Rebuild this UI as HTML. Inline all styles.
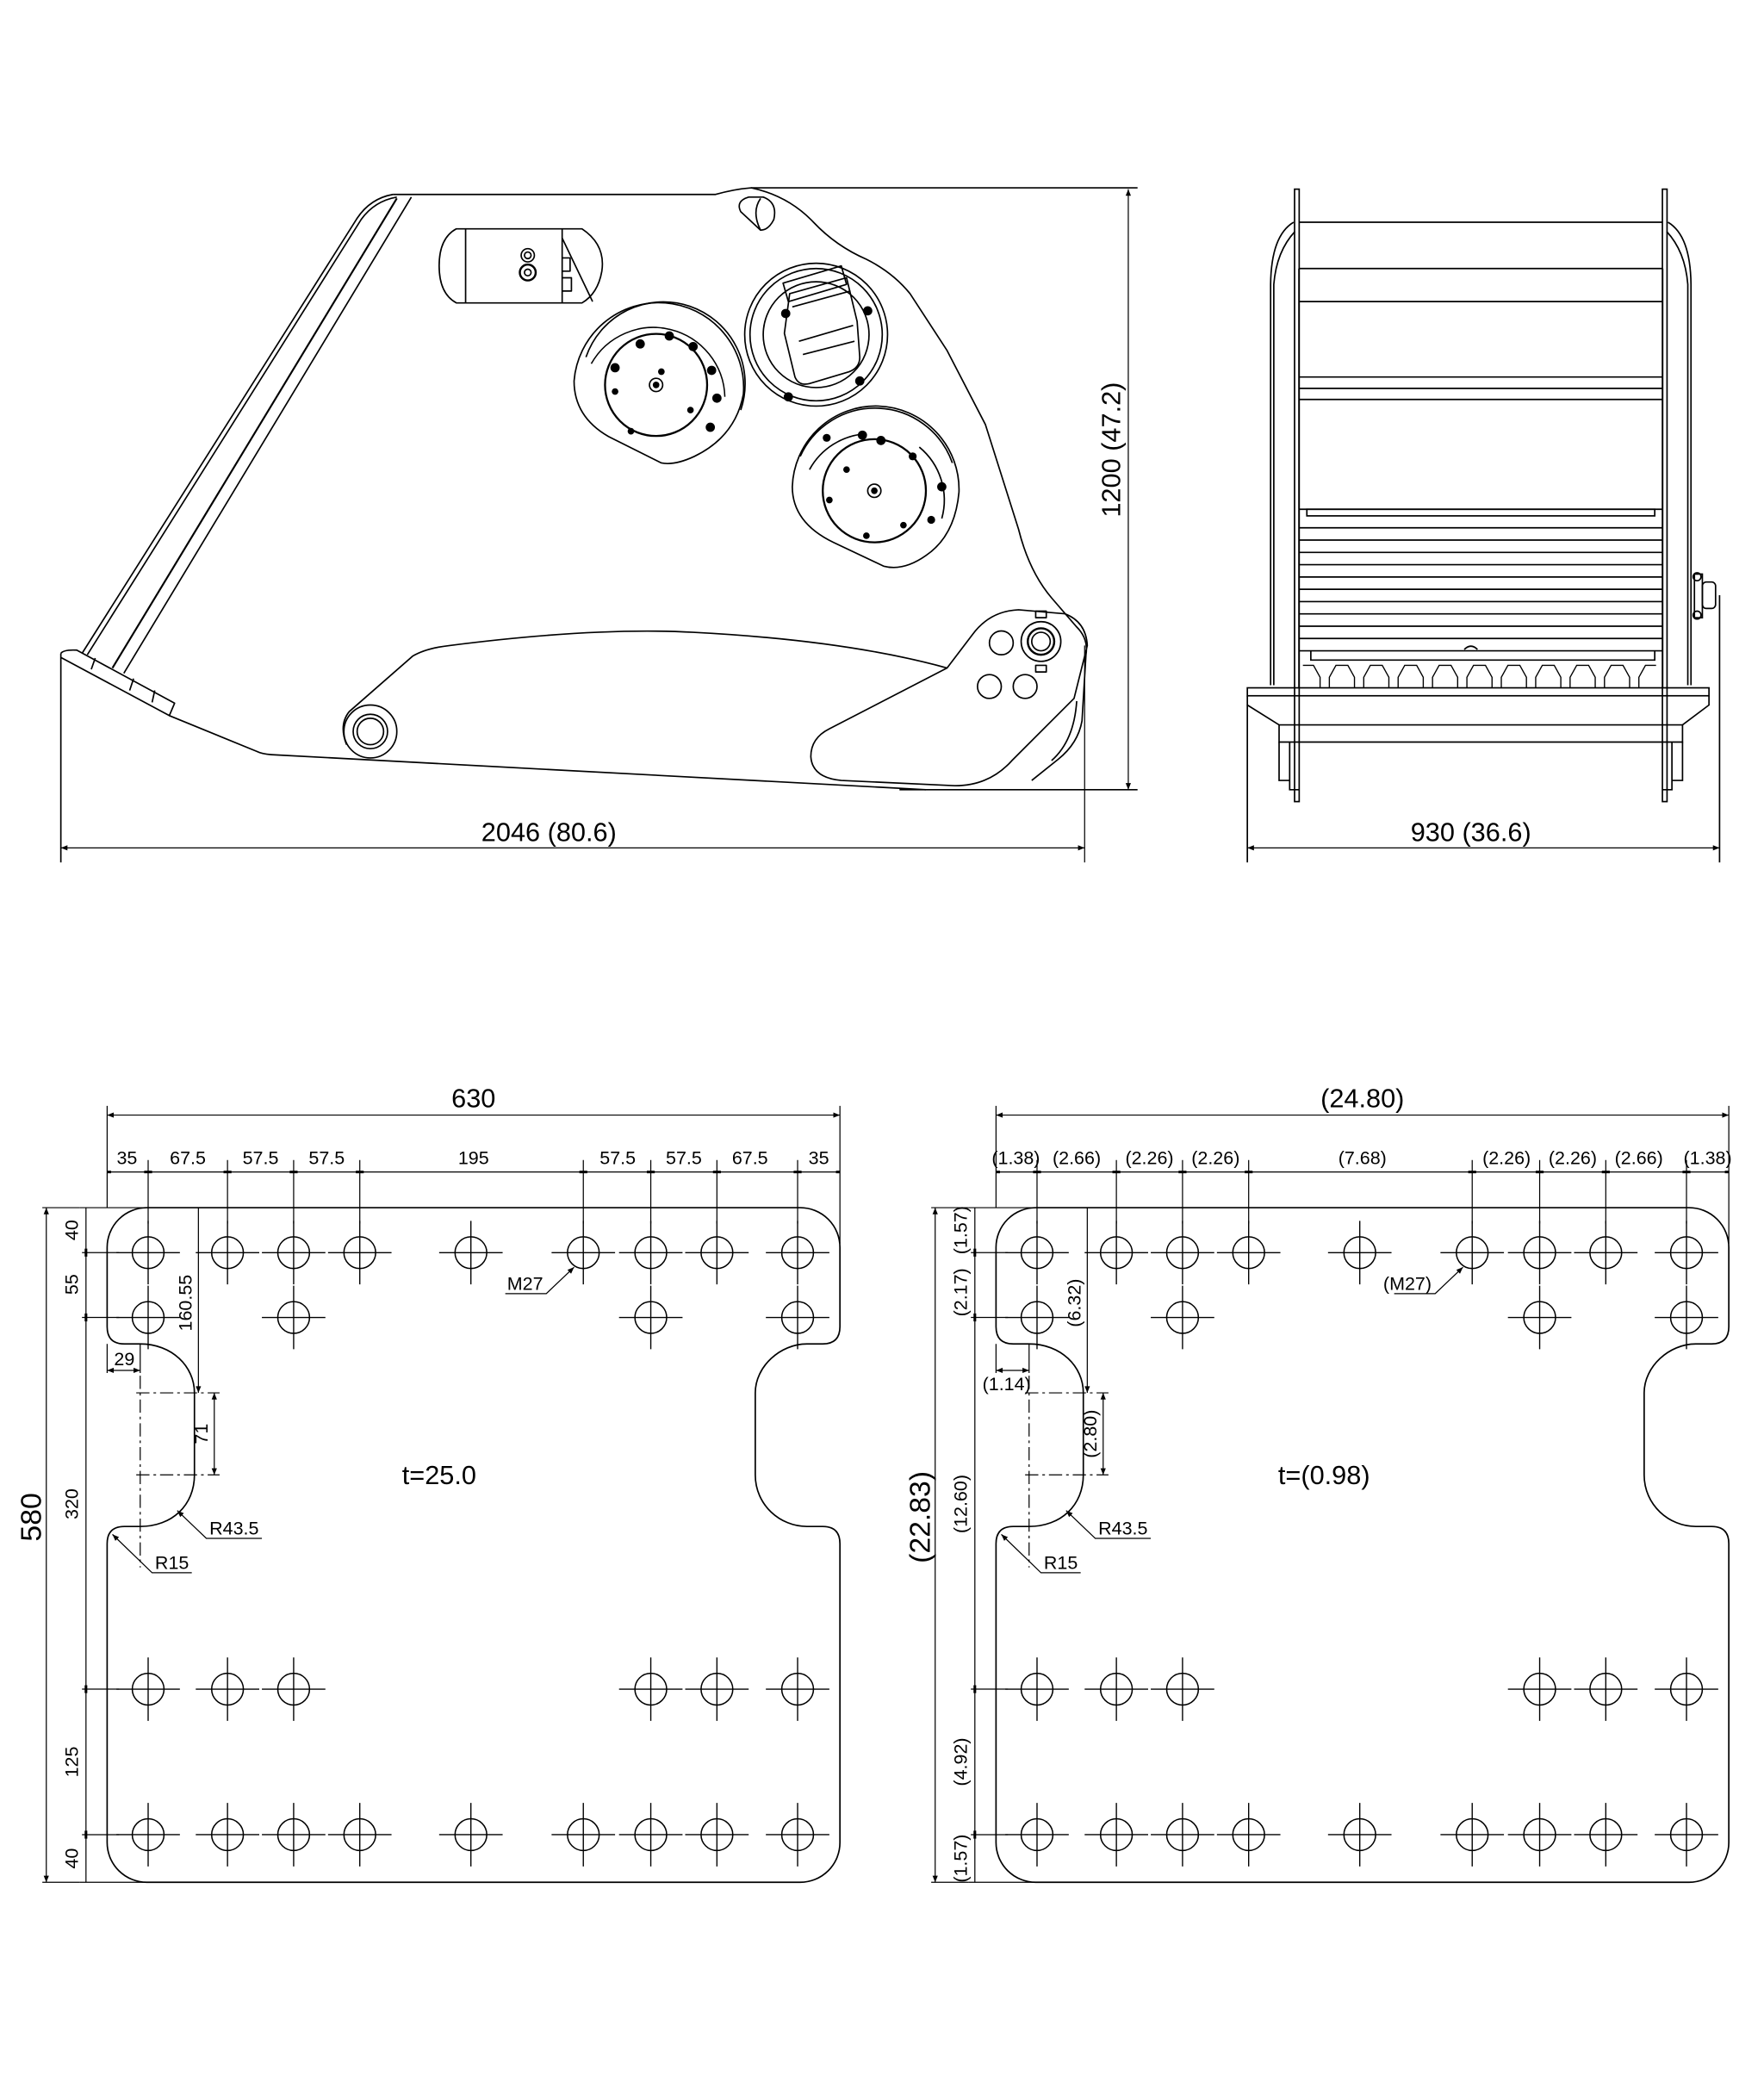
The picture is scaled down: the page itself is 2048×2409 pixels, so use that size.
<!DOCTYPE html>
<html><head><meta charset="utf-8"><style>
html,body{margin:0;padding:0;background:#fff}
svg{display:block}
text{font-family:"Liberation Sans",sans-serif;fill:#000}
</style></head><body>
<svg width="2048" height="2409" viewBox="0 0 1333.6 1568.7" preserveAspectRatio="none" xmlns="http://www.w3.org/2000/svg">
<defs>
<marker id="a" viewBox="0 0 10 10" refX="10" refY="5" markerWidth="7" markerHeight="5" markerUnits="userSpaceOnUse" orient="auto-start-reverse"><path d="M0 1L10 5L0 9z" fill="#000"/></marker>
<g id="h"><circle cx="0" cy="0" r="12" fill="none" stroke="#000" stroke-width="1"/><path d="M-24 0H24M0 -24V24" stroke="#000" stroke-width="0.9"/></g>
<g id="plate" fill="none" stroke="#000" stroke-width="1.1">
<path d="M111 913 L605 913 A30 30 0 0 1 635 943 L635 1003 Q635 1016 622 1016 L610 1016 C590 1016 571 1033 571 1053 L571 1115 C571 1138 590 1154 610 1154 L622 1154 Q635 1154 635 1167 L635 1393 A30 30 0 0 1 605 1423 L111 1423 A30 30 0 0 1 81 1393 L81 1167 Q81 1154 94 1154 L106 1154 C130 1154 147 1138 147 1115 L147 1053 C147 1033 130 1016 106 1016 L94 1016 Q81 1016 81 1003 L81 943 A30 30 0 0 1 111 913 Z"/>
<use href="#h" x="112" y="947"/><use href="#h" x="172" y="947"/><use href="#h" x="222" y="947"/><use href="#h" x="272" y="947"/><use href="#h" x="356" y="947"/><use href="#h" x="441" y="947"/><use href="#h" x="492" y="947"/><use href="#h" x="542" y="947"/><use href="#h" x="603" y="947"/>
<use href="#h" x="112" y="996"/><use href="#h" x="222" y="996"/><use href="#h" x="492" y="996"/><use href="#h" x="603" y="996"/>
<use href="#h" x="112" y="1277"/><use href="#h" x="172" y="1277"/><use href="#h" x="222" y="1277"/><use href="#h" x="492" y="1277"/><use href="#h" x="542" y="1277"/><use href="#h" x="603" y="1277"/>
<use href="#h" x="112" y="1387"/><use href="#h" x="172" y="1387"/><use href="#h" x="222" y="1387"/><use href="#h" x="272" y="1387"/><use href="#h" x="356" y="1387"/><use href="#h" x="441" y="1387"/><use href="#h" x="492" y="1387"/><use href="#h" x="542" y="1387"/><use href="#h" x="603" y="1387"/>
</g>
<g id="pdim" fill="none" stroke="#000" stroke-width="0.8">
<path d="M81 836V913M635 836V940"/>
<path d="M81 843H635" marker-start="url(#a)" marker-end="url(#a)"/>
<path d="M81 886H635"/>
<path d="M112 877V925M172 877V925M222 877V925M272 877V925M441 877V925M492 877V925M542 877V925M603 877V925"/>
<path d="M84 886h-3M109 886h6M169 886h6M219 886h6M269 886h6M438 886h6M489 886h6M539 886h6M600 886h6M632 886h3" stroke-width="2"/>
<path d="M65 913V1423"/>
<path d="M60 913H111M60 1423H111M62 947H90M62 996H90M62 1277H90M62 1387H90"/>
<path d="M65 944v6M65 993v6M65 1274v6M65 1384v6" stroke-width="2"/>
<path d="M32 913H60M32 1423H60"/>
<path d="M35 913V1423" marker-start="url(#a)" marker-end="url(#a)"/>
<path d="M150 913V1053" marker-end="url(#a)"/>
<path d="M162 1053V1115" marker-start="url(#a)" marker-end="url(#a)"/>
<path d="M103 1053H166M103 1115H166" stroke-dasharray="10 3 2 3"/>
<path d="M106 1040V1185" stroke-dasharray="10 3 2 3"/>
<path d="M81 1016V1038M106 1016V1038"/>
<path d="M81 1036H106" marker-start="url(#a)" marker-end="url(#a)"/>
<path d="M198 1163H156L134 1142" marker-end="url(#a)"/>
<path d="M145 1189H115L85 1160" marker-end="url(#a)"/>
<path d="M382 978H413L434 958" marker-end="url(#a)"/>
</g>
</defs>

<!-- ========== SIDE VIEW ========== -->
<g fill="none" stroke="#000" stroke-width="1.1" stroke-linejoin="round">
<path d="M46 494V652"/>
<path d="M46 494 Q48 491 58 491.5 L132 531.6 L128 541 L46 497"/>
<path d="M72 497.5L69 506M101 513L98 522M117 522L115 531"/>
<path d="M128 541 L194 568 Q198 570 205 570.5 L700 597"/>
<path d="M62 494 L270 165 Q280 150 297 147"/>
<path d="M66 495 L273 166 Q283 152 300 149"/>
<path d="M85 505 L300 150" stroke-width="1.4"/>
<path d="M93.6 509 L311 149"/>
<path d="M297 147 L541 147 Q555 143 568 142 Q596 148 615 168 Q632 186 655 196 Q675 206 688 222 L716 265 L745 321 L770 400 Q778 432 795 452 L814 474 Q823 483 821 495 L818 545 Q815 562 800 574 L780 590"/>
<path d="M568 142H860M680 597H860"/>
<path d="M560 160 Q556 152 566 149 L577 149 Q588 153 585 166 Q581 174 575 174 Z"/>
<path d="M575 150 Q568 160 575 174"/>
<path d="M345 173 L440 173 Q458 185 455 205 Q452 222 440 229 L345 229 Q332 222 332 201 Q332 180 345 173 Z"/>
<path d="M352 173V229M425 173V229M425 180L448 228"/>
<circle cx="399" cy="193" r="5"/><circle cx="399" cy="193" r="2.5"/>
<circle cx="399" cy="206" r="6" stroke-width="1.6"/><circle cx="399" cy="206" r="2.5"/>
<path d="M425 195h6v10h-6M425 210h7v10h-7"/>
<path d="M434 288 A64 64 0 0 1 562 298 Q556 330 525 345 Q510 352 500 350 L460 330 Q434 315 434 288 Z"/>
<circle cx="496" cy="291" r="38.6" stroke-width="1.5"/>
<path d="M447 275 A54 54 0 0 1 548 300" stroke-width="1"/>
<path d="M443 270 A60 60 0 0 1 560 310"/>
<circle cx="496" cy="291" r="5"/>
<circle cx="617" cy="253" r="54"/>
<circle cx="617" cy="253" r="50"/>
<circle cx="617" cy="253" r="40"/>
<path d="M597 222 L640 210 L648 243 L650 270 Q650 278 642 281 L612 290 Q604 292 601 285 L593 252 Z"/>
<path d="M599 232 L643 220 M604 258 L645 246 M607 268 L646 258"/>
<path d="M592 214 L636 201 L640 215 L596 228 Z"/>
<path d="M599 368 A63 63 0 0 1 725 372 Q722 405 700 420 Q683 432 668 428 L630 410 Q599 395 599 368 Z"/>
<circle cx="661" cy="371" r="39" stroke-width="1.5"/>
<path d="M612 355 A52 52 0 0 1 655 328" />
<path d="M695 338 A52 52 0 0 1 712 392" />
<path d="M605 345 A62 62 0 0 1 720 350"/>
<circle cx="661" cy="371" r="5"/>
<path d="M262 563 Q256 548 264 538 L312 496 Q322 490 340 488 Q450 474 524 478 Q640 484 716 505"/>
<path d="M716 505 L735 480 Q748 462 770 461 L805 464 Q821 470 822 488 L812 528 L765 575 Q748 594 722 594 L636 590 Q614 588 613 572 Q613 558 627 551 Z"/>
<path d="M795 575 Q812 560 814 530"/>
<circle cx="280" cy="553" r="20"/><circle cx="280" cy="553" r="13"/><circle cx="280" cy="553" r="10"/>
<circle cx="787" cy="485" r="15"/><circle cx="787" cy="485" r="10" stroke-width="1.6"/><circle cx="787" cy="485" r="7"/>
<path d="M783 467h8v-5h-8zM783 503h8v5h-8z"/>
<circle cx="757" cy="486" r="9"/><circle cx="748" cy="519" r="9"/><circle cx="775" cy="519" r="9"/>
<path d="M820 488V652" stroke-width="0.8"/>
</g>
<g fill="#000">
<circle cx="484" cy="260" r="3.5"/><circle cx="506" cy="254" r="3.5"/><circle cx="524" cy="262" r="3.5"/><circle cx="538" cy="280" r="3.5"/><circle cx="542" cy="301" r="3.5"/><circle cx="537" cy="323" r="3.5"/><circle cx="465" cy="278" r="3.5"/>
<circle cx="500" cy="281" r="2.5"/><circle cx="522" cy="310" r="2.5"/><circle cx="477" cy="326" r="2.5"/><circle cx="465" cy="296" r="2.5"/><circle cx="496" cy="291" r="2.5"/>
<circle cx="656" cy="235" r="3.5"/><circle cx="594" cy="237" r="3.5"/><circle cx="650" cy="288" r="3.5"/><circle cx="596" cy="300" r="3.5"/>
<circle cx="652" cy="329" r="3.5"/><circle cx="666" cy="333" r="3.5"/><circle cx="625" cy="331" r="3"/><circle cx="690" cy="345" r="3"/><circle cx="712" cy="368" r="3.5"/><circle cx="704" cy="393" r="3"/>
<circle cx="640" cy="355" r="2.5"/><circle cx="627" cy="378" r="2.5"/><circle cx="683" cy="397" r="2.5"/><circle cx="655" cy="405" r="2.5"/><circle cx="661" cy="371" r="2.5"/>
</g>
<path d="M853 143V597" stroke="#000" stroke-width="0.8" marker-start="url(#a)" marker-end="url(#a)"/>
<path d="M46 641H820" stroke="#000" stroke-width="0.8" marker-start="url(#a)" marker-end="url(#a)"/>
<text x="415" y="636" font-size="20" text-anchor="middle">2046 (80.6)</text>
<text transform="translate(847 340) rotate(-90)" font-size="20" text-anchor="middle">1200 (47.2)</text>

<!-- ========== FRONT VIEW ========== -->
<g fill="none" stroke="#000" stroke-width="1.1">
<rect x="978.7" y="143" width="3.5" height="463"/>
<rect x="1256.8" y="143" width="3.5" height="463"/>
<path d="M978 168 Q961 178 960.6 215 V518 M979 175 Q965 190 963 215 V518"/>
<path d="M1261 168 Q1278 178 1278.4 215 V518 M1260 175 Q1274 190 1276 215 V518"/>
<path d="M982 168H1257M982 203H1257M982 228H1257M982 285H1257M982 293.6H1257M982 302H1257M982 385H1257"/>
<path d="M982 203V385M1257 203V385"/>
<rect x="988" y="385" width="263" height="5"/>
<path d="M982 399H1257M982 408.3H1257M982 417.6H1257M982 426.9H1257M982 436.2H1257M982 445.5H1257M982 454.8H1257M982 464.1H1257M982 473.4H1257M982 482.7H1257M982 492H1257"/>
<path d="M982 385V520M1257 385V520"/>
<path d="M991 492V499H1251V492"/>
<path d="M985 503 L993 503 L998 512 L998 520 M1005 520 V512 L1010 503 L1019 503 L1024 512 L1024 520 M1031 520 V512 L1036 503 L1045 503 L1050 512 L1050 520 M1057 520 V512 L1062 503 L1071 503 L1076 512 L1076 520 M1083 520 V512 L1088 503 L1097 503 L1102 512 L1102 520 M1109 520 V512 L1114 503 L1123 503 L1128 512 L1128 520 M1135 520 V512 L1140 503 L1149 503 L1154 512 L1154 520 M1161 520 V512 L1166 503 L1175 503 L1180 512 L1180 520 M1187 520 V512 L1192 503 L1201 503 L1206 512 L1206 520 M1213 520 V512 L1218 503 L1227 503 L1232 512 L1232 520 M1239 520 V512 L1244 503 L1252 503" stroke-width="0.9"/>
<path d="M1107 491 Q1112 486 1117 491"/>
<rect x="943" y="520" width="349" height="6"/>
<path d="M943 526 V533 L967 548 V561 H1272 V548 L1292 533 V526 M967 548 H1272"/>
<path d="M967 561V590H975V561M975 561V597H982"/>
<path d="M1272 561V590H1264V561M1264 561V597H1257"/>
<path d="M943 533V652M1300 450V652"/>
<rect x="1281" y="434" width="6" height="33"/>
<rect x="1287" y="440" width="10" height="20" rx="3"/>
<circle cx="1283" cy="436" r="3"/><circle cx="1283" cy="465" r="3"/>
</g>
<path d="M943 641H1300" stroke="#000" stroke-width="0.8" marker-start="url(#a)" marker-end="url(#a)"/>
<text x="1112" y="636" font-size="20" text-anchor="middle">930 (36.6)</text>

<!-- ========== LEFT PLATE ========== -->
<use href="#plate"/>
<use href="#pdim"/>
<g font-size="14" text-anchor="middle">
<text x="358" y="837" font-size="20">630</text>
<text x="96" y="880">35</text><text x="142" y="880">67.5</text><text x="197" y="880">57.5</text><text x="247" y="880">57.5</text><text x="358" y="880">195</text><text x="467" y="880">57.5</text><text x="517" y="880">57.5</text><text x="567" y="880">67.5</text><text x="619" y="880">35</text>
<text transform="translate(59 930) rotate(-90)">40</text>
<text transform="translate(59 971) rotate(-90)">55</text>
<text transform="translate(59 1137) rotate(-90)">320</text>
<text transform="translate(59 1332) rotate(-90)">125</text>
<text transform="translate(59 1405) rotate(-90)">40</text>
<text transform="translate(31 1147) rotate(-90)" font-size="22">580</text>
<text transform="translate(145 985) rotate(-90)">160.55</text>
<text transform="translate(157 1084) rotate(-90)">71</text>
<text x="94" y="1032">29</text>
<text x="177" y="1160">R43.5</text>
<text x="130" y="1186">R15</text>
<text x="397" y="975">M27</text>
<text x="332" y="1122" font-size="20">t=25.0</text>
</g>

<!-- ========== RIGHT PLATE ========== -->
<g transform="translate(672 0)">
<use href="#plate"/>
<use href="#pdim"/>
</g>
<g font-size="14" text-anchor="middle">
<text x="1030" y="837" font-size="20">(24.80)</text>
<text x="768" y="880">(1.38)</text><text x="814" y="880">(2.66)</text><text x="869" y="880">(2.26)</text><text x="919" y="880">(2.26)</text><text x="1030" y="880">(7.68)</text><text x="1139" y="880">(2.26)</text><text x="1189" y="880">(2.26)</text><text x="1239" y="880">(2.66)</text><text x="1291" y="880">(1.38)</text>
<text transform="translate(731 930) rotate(-90)">(1.57)</text>
<text transform="translate(731 977) rotate(-90)">(2.17)</text>
<text transform="translate(731 1137) rotate(-90)">(12.60)</text>
<text transform="translate(731 1332) rotate(-90)">(4.92)</text>
<text transform="translate(731 1405) rotate(-90)">(1.57)</text>
<text transform="translate(703 1147) rotate(-90)" font-size="22">(22.83)</text>
<text transform="translate(817 985) rotate(-90)">(6.32)</text>
<text transform="translate(829 1084) rotate(-90)">(2.80)</text>
<text x="761" y="1051">(1.14)</text>
<text x="849" y="1160">R43.5</text>
<text x="802" y="1186">R15</text>
<text x="1064" y="975">(M27)</text>
<text x="1001" y="1122" font-size="20">t=(0.98)</text>
</g>
</svg>
</body></html>
